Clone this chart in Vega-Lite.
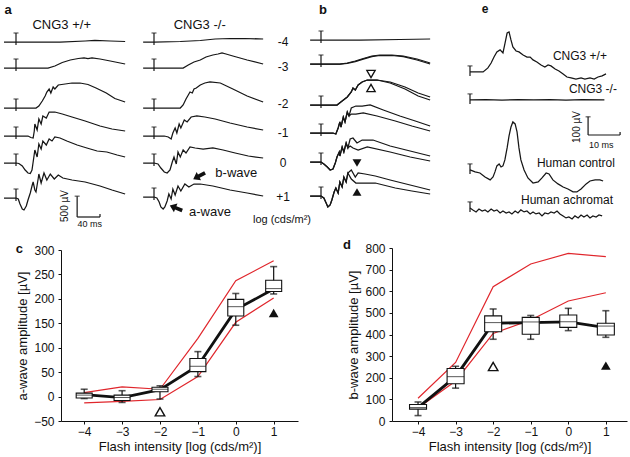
{
"$schema":"https://vega.github.io/schema/vega-lite/v6.json",
"width":630,"height":457,"autosize":{"type":"none"},"padding":0,"background":"white",
"config":{"view":{"stroke":null},"font":"Liberation Sans",
 "axis":{"labelFont":"Liberation Sans","labelFontSize":12,"labelColor":"#111","titleFont":"Liberation Sans","titleFontSize":13,"titleFontWeight":"normal","titleColor":"#111","domainColor":"#111","tickColor":"#111","grid":false,"tickSize":3,"labelFlush":false,"labelOverlap":false}},
"datasets":{
"a1":[
{"k":"m4","t":-21,"v":4392},{"k":"m4","t":0,"v":4392},{"k":"m4","t":77,"v":4392},{"k":"m4","t":121,"v":4416},{"k":"m4","t":138,"v":4428},{"k":"m4","t":165,"v":4416},{"k":"m4","t":191,"v":4404},
{"k":"m3","t":-21,"v":3768},{"k":"m3","t":0,"v":3768},{"k":"m3","t":56,"v":3768},{"k":"m3","t":68,"v":3816},{"k":"m3","t":81,"v":3900},{"k":"m3","t":95,"v":3960},{"k":"m3","t":109,"v":3996},{"k":"m3","t":119,"v":4008},{"k":"m3","t":126,"v":3996},{"k":"m3","t":133,"v":4008},{"k":"m3","t":147,"v":3984},{"k":"m3","t":165,"v":3936},{"k":"m3","t":191,"v":3864},
{"k":"m2","t":-21,"v":2808},{"k":"m2","t":0,"v":2808},{"k":"m2","t":35,"v":2808},{"k":"m2","t":40,"v":2856},{"k":"m2","t":46,"v":2976},{"k":"m2","t":51,"v":3096},{"k":"m2","t":54,"v":3192},{"k":"m2","t":58,"v":3264},{"k":"m2","t":61,"v":3168},{"k":"m2","t":65,"v":3312},{"k":"m2","t":68,"v":3264},{"k":"m2","t":74,"v":3360},{"k":"m2","t":86,"v":3384},{"k":"m2","t":98,"v":3408},{"k":"m2","t":112,"v":3408},{"k":"m2","t":126,"v":3372},{"k":"m2","t":140,"v":3288},{"k":"m2","t":158,"v":3168},{"k":"m2","t":173,"v":3036},{"k":"m2","t":191,"v":2952},
{"k":"m1","t":-21,"v":2136},{"k":"m1","t":0,"v":2136},{"k":"m1","t":21,"v":2136},{"k":"m1","t":26,"v":2100},{"k":"m1","t":30,"v":2088},{"k":"m1","t":32,"v":2256},{"k":"m1","t":33,"v":2424},{"k":"m1","t":37,"v":2280},{"k":"m1","t":40,"v":2544},{"k":"m1","t":44,"v":2424},{"k":"m1","t":47,"v":2616},{"k":"m1","t":53,"v":2568},{"k":"m1","t":58,"v":2712},{"k":"m1","t":68,"v":2712},{"k":"m1","t":81,"v":2664},{"k":"m1","t":98,"v":2592},{"k":"m1","t":121,"v":2496},{"k":"m1","t":147,"v":2376},{"k":"m1","t":168,"v":2304},{"k":"m1","t":191,"v":2256},
{"k":"z0","t":-21,"v":1488},{"k":"z0","t":0,"v":1488},{"k":"z0","t":5,"v":1476},{"k":"z0","t":11,"v":1416},{"k":"z0","t":16,"v":1320},{"k":"z0","t":21,"v":1248},{"k":"z0","t":25,"v":1236},{"k":"z0","t":28,"v":1320},{"k":"z0","t":30,"v":1512},{"k":"z0","t":32,"v":1704},{"k":"z0","t":33,"v":1800},{"k":"z0","t":37,"v":1632},{"k":"z0","t":40,"v":1944},{"k":"z0","t":44,"v":1824},{"k":"z0","t":47,"v":2016},{"k":"z0","t":53,"v":1920},{"k":"z0","t":58,"v":2064},{"k":"z0","t":63,"v":2016},{"k":"z0","t":68,"v":2112},{"k":"z0","t":77,"v":2088},{"k":"z0","t":89,"v":2016},{"k":"z0","t":107,"v":1920},{"k":"z0","t":124,"v":1848},{"k":"z0","t":142,"v":1776},{"k":"z0","t":159,"v":1752},{"k":"z0","t":177,"v":1680},{"k":"z0","t":191,"v":1632},
{"k":"p1","t":-21,"v":648},{"k":"p1","t":0,"v":648},{"k":"p1","t":4,"v":624},{"k":"p1","t":7,"v":504},{"k":"p1","t":11,"v":384},{"k":"p1","t":14,"v":360},{"k":"p1","t":18,"v":456},{"k":"p1","t":21,"v":600},{"k":"p1","t":25,"v":768},{"k":"p1","t":28,"v":936},{"k":"p1","t":30,"v":1032},{"k":"p1","t":33,"v":840},{"k":"p1","t":35,"v":792},{"k":"p1","t":39,"v":1128},{"k":"p1","t":40,"v":1224},{"k":"p1","t":44,"v":1008},{"k":"p1","t":49,"v":1248},{"k":"p1","t":54,"v":1080},{"k":"p1","t":60,"v":1224},{"k":"p1","t":67,"v":1104},{"k":"p1","t":74,"v":1200},{"k":"p1","t":82,"v":1128},{"k":"p1","t":98,"v":1080},{"k":"p1","t":121,"v":1032},{"k":"p1","t":147,"v":936},{"k":"p1","t":168,"v":840},{"k":"p1","t":191,"v":744}
],
"a2":[
{"k":"m4","t":-19,"v":4392},{"k":"m4","t":0,"v":4392},{"k":"m4","t":46,"v":4404},{"k":"m4","t":81,"v":4428},{"k":"m4","t":107,"v":4464},{"k":"m4","t":133,"v":4476},{"k":"m4","t":159,"v":4476},{"k":"m4","t":191,"v":4464},
{"k":"m3","t":-19,"v":3768},{"k":"m3","t":0,"v":3768},{"k":"m3","t":51,"v":3768},{"k":"m3","t":60,"v":3840},{"k":"m3","t":70,"v":3912},{"k":"m3","t":81,"v":3960},{"k":"m3","t":91,"v":4032},{"k":"m3","t":103,"v":4080},{"k":"m3","t":112,"v":4104},{"k":"m3","t":119,"v":4128},{"k":"m3","t":126,"v":4104},{"k":"m3","t":138,"v":4056},{"k":"m3","t":163,"v":3960},{"k":"m3","t":191,"v":3864},
{"k":"m2","t":-19,"v":2808},{"k":"m2","t":0,"v":2808},{"k":"m2","t":46,"v":2808},{"k":"m2","t":51,"v":2880},{"k":"m2","t":56,"v":3024},{"k":"m2","t":60,"v":3120},{"k":"m2","t":63,"v":3192},{"k":"m2","t":67,"v":3168},{"k":"m2","t":70,"v":3264},{"k":"m2","t":74,"v":3288},{"k":"m2","t":81,"v":3360},{"k":"m2","t":89,"v":3408},{"k":"m2","t":98,"v":3432},{"k":"m2","t":116,"v":3408},{"k":"m2","t":138,"v":3264},{"k":"m2","t":163,"v":3096},{"k":"m2","t":191,"v":2952},
{"k":"m1","t":-19,"v":2136},{"k":"m1","t":0,"v":2136},{"k":"m1","t":18,"v":2136},{"k":"m1","t":25,"v":2112},{"k":"m1","t":30,"v":2064},{"k":"m1","t":33,"v":2208},{"k":"m1","t":37,"v":2328},{"k":"m1","t":40,"v":2208},{"k":"m1","t":44,"v":2424},{"k":"m1","t":47,"v":2328},{"k":"m1","t":53,"v":2520},{"k":"m1","t":58,"v":2472},{"k":"m1","t":65,"v":2592},{"k":"m1","t":75,"v":2616},{"k":"m1","t":89,"v":2592},{"k":"m1","t":107,"v":2544},{"k":"m1","t":133,"v":2448},{"k":"m1","t":163,"v":2352},{"k":"m1","t":191,"v":2280},
{"k":"z0","t":-19,"v":1488},{"k":"z0","t":0,"v":1488},{"k":"z0","t":7,"v":1464},{"k":"z0","t":12,"v":1368},{"k":"z0","t":18,"v":1272},{"k":"z0","t":23,"v":1248},{"k":"z0","t":28,"v":1320},{"k":"z0","t":32,"v":1512},{"k":"z0","t":35,"v":1632},{"k":"z0","t":39,"v":1464},{"k":"z0","t":42,"v":1752},{"k":"z0","t":46,"v":1632},{"k":"z0","t":51,"v":1800},{"k":"z0","t":56,"v":1728},{"k":"z0","t":63,"v":1872},{"k":"z0","t":72,"v":1848},{"k":"z0","t":86,"v":1824},{"k":"z0","t":103,"v":1848},{"k":"z0","t":121,"v":1800},{"k":"z0","t":142,"v":1728},{"k":"z0","t":165,"v":1656},{"k":"z0","t":191,"v":1608},
{"k":"p1","t":-19,"v":672},{"k":"p1","t":0,"v":672},{"k":"p1","t":5,"v":648},{"k":"p1","t":9,"v":552},{"k":"p1","t":12,"v":432},{"k":"p1","t":16,"v":384},{"k":"p1","t":19,"v":432},{"k":"p1","t":23,"v":576},{"k":"p1","t":26,"v":744},{"k":"p1","t":30,"v":624},{"k":"p1","t":33,"v":864},{"k":"p1","t":37,"v":720},{"k":"p1","t":42,"v":936},{"k":"p1","t":47,"v":816},{"k":"p1","t":54,"v":984},{"k":"p1","t":61,"v":912},{"k":"p1","t":70,"v":984},{"k":"p1","t":81,"v":984},{"k":"p1","t":103,"v":936},{"k":"p1","t":133,"v":840},{"k":"p1","t":163,"v":768},{"k":"p1","t":191,"v":696}
],
"b":[
{"k":"m4","t":-19,"v":4440},{"k":"m4","t":0,"v":4440},{"k":"m4","t":68,"v":4440},{"k":"m4","t":138,"v":4452},{"k":"m4","t":191,"v":4464},
{"k":"m3u","t":-19,"v":3864},{"k":"m3u","t":0,"v":3864},{"k":"m3u","t":33,"v":3864},{"k":"m3u","t":46,"v":3888},{"k":"m3u","t":60,"v":3936},{"k":"m3u","t":74,"v":3996},{"k":"m3u","t":89,"v":4056},{"k":"m3u","t":103,"v":4080},{"k":"m3u","t":124,"v":4080},{"k":"m3u","t":144,"v":4056},{"k":"m3u","t":168,"v":3984},{"k":"m3u","t":191,"v":3888},
{"k":"m3l","t":-19,"v":3864},{"k":"m3l","t":0,"v":3864},{"k":"m3l","t":33,"v":3864},{"k":"m3l","t":46,"v":3880},{"k":"m3l","t":60,"v":3920},{"k":"m3l","t":74,"v":3980},{"k":"m3l","t":89,"v":4040},{"k":"m3l","t":103,"v":4068},{"k":"m3l","t":124,"v":4068},{"k":"m3l","t":144,"v":4040},{"k":"m3l","t":168,"v":3960},{"k":"m3l","t":191,"v":3864},
{"k":"m2u","t":-19,"v":2880},{"k":"m2u","t":0,"v":2880},{"k":"m2u","t":28,"v":2880},{"k":"m2u","t":37,"v":2976},{"k":"m2u","t":46,"v":3072},{"k":"m2u","t":53,"v":3192},{"k":"m2u","t":56,"v":3288},{"k":"m2u","t":60,"v":3240},{"k":"m2u","t":65,"v":3360},{"k":"m2u","t":72,"v":3432},{"k":"m2u","t":81,"v":3480},{"k":"m2u","t":98,"v":3480},{"k":"m2u","t":121,"v":3432},{"k":"m2u","t":147,"v":3312},{"k":"m2u","t":170,"v":3168},{"k":"m2u","t":191,"v":3072},
{"k":"m2l","t":-19,"v":2880},{"k":"m2l","t":0,"v":2880},{"k":"m2l","t":28,"v":2880},{"k":"m2l","t":37,"v":2976},{"k":"m2l","t":46,"v":3072},{"k":"m2l","t":53,"v":3192},{"k":"m2l","t":56,"v":3288},{"k":"m2l","t":60,"v":3240},{"k":"m2l","t":65,"v":3360},{"k":"m2l","t":72,"v":3432},{"k":"m2l","t":81,"v":3480},{"k":"m2l","t":98,"v":3480},{"k":"m2l","t":121,"v":3408},{"k":"m2l","t":147,"v":3264},{"k":"m2l","t":170,"v":3096},{"k":"m2l","t":191,"v":3000},
{"k":"m1u","t":-19,"v":2208},{"k":"m1u","t":0,"v":2208},{"k":"m1u","t":21,"v":2208},{"k":"m1u","t":26,"v":2184},{"k":"m1u","t":30,"v":2328},{"k":"m1u","t":33,"v":2472},{"k":"m1u","t":35,"v":2352},{"k":"m1u","t":39,"v":2592},{"k":"m1u","t":42,"v":2472},{"k":"m1u","t":46,"v":2712},{"k":"m1u","t":49,"v":2616},{"k":"m1u","t":53,"v":2808},{"k":"m1u","t":61,"v":2856},{"k":"m1u","t":72,"v":2856},{"k":"m1u","t":86,"v":2880},{"k":"m1u","t":109,"v":2760},{"k":"m1u","t":138,"v":2616},{"k":"m1u","t":165,"v":2496},{"k":"m1u","t":191,"v":2376},
{"k":"m1l","t":-19,"v":2208},{"k":"m1l","t":0,"v":2208},{"k":"m1l","t":21,"v":2208},{"k":"m1l","t":26,"v":2184},{"k":"m1l","t":30,"v":2328},{"k":"m1l","t":33,"v":2472},{"k":"m1l","t":35,"v":2352},{"k":"m1l","t":39,"v":2592},{"k":"m1l","t":42,"v":2472},{"k":"m1l","t":46,"v":2712},{"k":"m1l","t":49,"v":2616},{"k":"m1l","t":53,"v":2664},{"k":"m1l","t":61,"v":2664},{"k":"m1l","t":74,"v":2688},{"k":"m1l","t":98,"v":2616},{"k":"m1l","t":130,"v":2496},{"k":"m1l","t":159,"v":2376},{"k":"m1l","t":191,"v":2256},
{"k":"z0u","t":-19,"v":1512},{"k":"z0u","t":0,"v":1512},{"k":"z0u","t":5,"v":1464},{"k":"z0u","t":11,"v":1392},{"k":"z0u","t":16,"v":1320},{"k":"z0u","t":21,"v":1344},{"k":"z0u","t":25,"v":1488},{"k":"z0u","t":28,"v":1632},{"k":"z0u","t":32,"v":1752},{"k":"z0u","t":33,"v":1656},{"k":"z0u","t":37,"v":1872},{"k":"z0u","t":40,"v":1752},{"k":"z0u","t":44,"v":1968},{"k":"z0u","t":47,"v":1848},{"k":"z0u","t":51,"v":2064},{"k":"z0u","t":56,"v":2088},{"k":"z0u","t":63,"v":1968},{"k":"z0u","t":72,"v":2040},{"k":"z0u","t":91,"v":2040},{"k":"z0u","t":121,"v":1896},{"k":"z0u","t":156,"v":1776},{"k":"z0u","t":191,"v":1656},
{"k":"z0l","t":-19,"v":1512},{"k":"z0l","t":0,"v":1512},{"k":"z0l","t":5,"v":1464},{"k":"z0l","t":11,"v":1392},{"k":"z0l","t":16,"v":1320},{"k":"z0l","t":21,"v":1344},{"k":"z0l","t":25,"v":1488},{"k":"z0l","t":28,"v":1632},{"k":"z0l","t":32,"v":1752},{"k":"z0l","t":33,"v":1656},{"k":"z0l","t":37,"v":1872},{"k":"z0l","t":40,"v":1752},{"k":"z0l","t":44,"v":1968},{"k":"z0l","t":47,"v":1848},{"k":"z0l","t":51,"v":1896},{"k":"z0l","t":56,"v":1848},{"k":"z0l","t":65,"v":1800},{"k":"z0l","t":81,"v":1872},{"k":"z0l","t":121,"v":1752},{"k":"z0l","t":156,"v":1632},{"k":"z0l","t":191,"v":1536},
{"k":"p1u","t":-19,"v":696},{"k":"p1u","t":0,"v":696},{"k":"p1u","t":5,"v":648},{"k":"p1u","t":9,"v":528},{"k":"p1u","t":12,"v":432},{"k":"p1u","t":16,"v":480},{"k":"p1u","t":19,"v":600},{"k":"p1u","t":23,"v":792},{"k":"p1u","t":26,"v":888},{"k":"p1u","t":30,"v":768},{"k":"p1u","t":33,"v":1032},{"k":"p1u","t":37,"v":912},{"k":"p1u","t":40,"v":1152},{"k":"p1u","t":44,"v":1032},{"k":"p1u","t":47,"v":1248},{"k":"p1u","t":53,"v":1320},{"k":"p1u","t":60,"v":1152},{"k":"p1u","t":65,"v":1248},{"k":"p1u","t":77,"v":1224},{"k":"p1u","t":95,"v":1176},{"k":"p1u","t":121,"v":1080},{"k":"p1u","t":156,"v":960},{"k":"p1u","t":191,"v":840},
{"k":"p1l","t":-19,"v":696},{"k":"p1l","t":0,"v":696},{"k":"p1l","t":5,"v":648},{"k":"p1l","t":9,"v":528},{"k":"p1l","t":12,"v":432},{"k":"p1l","t":16,"v":480},{"k":"p1l","t":19,"v":600},{"k":"p1l","t":23,"v":792},{"k":"p1l","t":26,"v":888},{"k":"p1l","t":30,"v":768},{"k":"p1l","t":33,"v":1032},{"k":"p1l","t":37,"v":912},{"k":"p1l","t":40,"v":1152},{"k":"p1l","t":44,"v":1032},{"k":"p1l","t":47,"v":1248},{"k":"p1l","t":53,"v":1104},{"k":"p1l","t":61,"v":1008},{"k":"p1l","t":77,"v":1008},{"k":"p1l","t":95,"v":1008},{"k":"p1l","t":130,"v":888},{"k":"p1l","t":159,"v":816},{"k":"p1l","t":191,"v":744}
],
"e":[
{"k":"e1","t":0,"v":842},{"k":"e1","t":4.1,"v":842},{"k":"e1","t":5.6,"v":864},{"k":"e1","t":6.6,"v":891},{"k":"e1","t":7.5,"v":924},{"k":"e1","t":8.4,"v":952},{"k":"e1","t":9.4,"v":963},{"k":"e1","t":10.3,"v":946},{"k":"e1","t":10.9,"v":996},{"k":"e1","t":11.6,"v":1056},{"k":"e1","t":12.2,"v":1062},{"k":"e1","t":12.8,"v":1018},{"k":"e1","t":13.4,"v":979},{"k":"e1","t":14.4,"v":957},{"k":"e1","t":15.3,"v":952},{"k":"e1","t":16.6,"v":935},{"k":"e1","t":17.8,"v":924},{"k":"e1","t":18.8,"v":924},{"k":"e1","t":19.7,"v":908},{"k":"e1","t":20.9,"v":897},{"k":"e1","t":22.2,"v":880},{"k":"e1","t":23.4,"v":869},{"k":"e1","t":24.4,"v":880},{"k":"e1","t":25.3,"v":875},{"k":"e1","t":26.6,"v":858},{"k":"e1","t":27.8,"v":847},{"k":"e1","t":29.1,"v":831},{"k":"e1","t":30.3,"v":814},{"k":"e1","t":31.6,"v":809},{"k":"e1","t":33.1,"v":803},{"k":"e1","t":34.7,"v":809},{"k":"e1","t":35.9,"v":803},{"k":"e1","t":37.5,"v":809},{"k":"e1","t":38.8,"v":803},{"k":"e1","t":40,"v":814},{"k":"e1","t":41.3,"v":820},{"k":"e1","t":42.5,"v":831},
{"k":"e2","t":0,"v":688},{"k":"e2","t":5,"v":690},{"k":"e2","t":10,"v":687},{"k":"e2","t":15,"v":689},{"k":"e2","t":20,"v":688},{"k":"e2","t":25,"v":690},{"k":"e2","t":30,"v":687},{"k":"e2","t":35,"v":689},{"k":"e2","t":42,"v":688},
{"k":"e3","t":0,"v":303},{"k":"e3","t":1.6,"v":292},{"k":"e3","t":3.1,"v":286},{"k":"e3","t":4.7,"v":264},{"k":"e3","t":6.3,"v":248},{"k":"e3","t":7.2,"v":264},{"k":"e3","t":7.8,"v":292},{"k":"e3","t":8.4,"v":325},{"k":"e3","t":9.1,"v":336},{"k":"e3","t":9.7,"v":319},{"k":"e3","t":10.3,"v":325},{"k":"e3","t":10.9,"v":358},{"k":"e3","t":11.6,"v":424},{"k":"e3","t":12.2,"v":490},{"k":"e3","t":12.8,"v":539},{"k":"e3","t":13.4,"v":567},{"k":"e3","t":14.1,"v":556},{"k":"e3","t":14.7,"v":512},{"k":"e3","t":15.3,"v":424},{"k":"e3","t":15.9,"v":358},{"k":"e3","t":16.9,"v":303},{"k":"e3","t":18.1,"v":259},{"k":"e3","t":19.7,"v":231},{"k":"e3","t":21.3,"v":237},{"k":"e3","t":22.5,"v":259},{"k":"e3","t":23.8,"v":286},{"k":"e3","t":24.7,"v":281},{"k":"e3","t":25.9,"v":248},{"k":"e3","t":27.5,"v":226},{"k":"e3","t":29.1,"v":209},{"k":"e3","t":30.6,"v":198},{"k":"e3","t":32.2,"v":182},{"k":"e3","t":33.4,"v":182},{"k":"e3","t":34.7,"v":198},{"k":"e3","t":36.3,"v":226},{"k":"e3","t":37.5,"v":242},{"k":"e3","t":39.1,"v":248},{"k":"e3","t":40.6,"v":248},{"k":"e3","t":41.6,"v":242},
{"k":"e4","t":0,"v":94},{"k":"e4","t":0.9,"v":83},{"k":"e4","t":1.9,"v":72},{"k":"e4","t":2.8,"v":88},{"k":"e4","t":3.8,"v":77},{"k":"e4","t":4.7,"v":83},{"k":"e4","t":5.6,"v":72},{"k":"e4","t":6.6,"v":88},{"k":"e4","t":7.5,"v":77},{"k":"e4","t":8.4,"v":83},{"k":"e4","t":9.4,"v":66},{"k":"e4","t":10.3,"v":77},{"k":"e4","t":11.3,"v":66},{"k":"e4","t":12.2,"v":72},{"k":"e4","t":13.1,"v":61},{"k":"e4","t":14.1,"v":77},{"k":"e4","t":15,"v":66},{"k":"e4","t":15.9,"v":83},{"k":"e4","t":16.9,"v":72},{"k":"e4","t":17.8,"v":77},{"k":"e4","t":18.8,"v":61},{"k":"e4","t":19.7,"v":72},{"k":"e4","t":20.6,"v":61},{"k":"e4","t":21.6,"v":66},{"k":"e4","t":22.5,"v":50},{"k":"e4","t":23.4,"v":66},{"k":"e4","t":24.4,"v":61},{"k":"e4","t":25.3,"v":72},{"k":"e4","t":26.3,"v":66},{"k":"e4","t":27.2,"v":77},{"k":"e4","t":28.1,"v":61},{"k":"e4","t":29.1,"v":50},{"k":"e4","t":30,"v":39},{"k":"e4","t":30.9,"v":44},{"k":"e4","t":31.9,"v":33},{"k":"e4","t":32.8,"v":50},{"k":"e4","t":33.8,"v":39},{"k":"e4","t":34.7,"v":55},{"k":"e4","t":35.6,"v":44},{"k":"e4","t":36.6,"v":55},{"k":"e4","t":37.5,"v":39},{"k":"e4","t":38.4,"v":50},{"k":"e4","t":39.4,"v":44},{"k":"e4","t":40.3,"v":55},{"k":"e4","t":41.3,"v":50}
],
"mk":[
{"c":"A1","t":0,"lo":4320,"hi":4608},{"c":"A1","t":0,"lo":3696,"hi":3984},{"c":"A1","t":0,"lo":2736,"hi":3024},{"c":"A1","t":0,"lo":2064,"hi":2352},{"c":"A1","t":0,"lo":1416,"hi":1704},{"c":"A1","t":0,"lo":576,"hi":864},
{"c":"A2","t":0,"lo":4320,"hi":4608},{"c":"A2","t":0,"lo":3696,"hi":3984},{"c":"A2","t":0,"lo":2736,"hi":3024},{"c":"A2","t":0,"lo":2064,"hi":2352},{"c":"A2","t":0,"lo":1416,"hi":1704},{"c":"A2","t":0,"lo":600,"hi":888},
{"c":"B","t":0,"lo":4368,"hi":4656},{"c":"B","t":0,"lo":3792,"hi":4080},{"c":"B","t":0,"lo":2808,"hi":3096},{"c":"B","t":0,"lo":2136,"hi":2424},{"c":"B","t":0,"lo":1440,"hi":1728},{"c":"B","t":0,"lo":624,"hi":912},
{"c":"E","t":0,"lo":820,"hi":875},{"c":"E","t":0,"lo":666,"hi":721},{"c":"E","t":0,"lo":281,"hi":336},{"c":"E","t":0,"lo":72,"hi":127}
],
"sb":[
{"c":"A1","t":107,"t2":107,"v":192,"v2":692},{"c":"A1","t":107,"t2":147,"v":192,"v2":192},{"c":"A1","t":147,"t2":147,"v":192,"v2":264},
{"c":"E","t":36.9,"t2":36.9,"v":495,"v2":595},{"c":"E","t":36.9,"t2":46.9,"v":495,"v2":495},{"c":"E","t":46.9,"t2":46.9,"v":495,"v2":512}
],
"box_c":[
{"x":-4,"lo":-4,"q1":-3,"med":3,"q3":7,"hi":15,"mean":4},
{"x":-3,"lo":-12,"q1":-8,"med":-2,"q3":3,"hi":12,"mean":-2},
{"x":-2,"lo":-5,"q1":10,"med":15,"q3":19,"hi":22,"mean":14},
{"x":-1,"lo":41,"q1":51,"med":62,"q3":78,"hi":92,"mean":63},
{"x":0,"lo":146,"q1":165,"med":184,"q3":199,"hi":211,"mean":178},
{"x":1,"lo":210,"q1":215,"med":221,"q3":238,"hi":266,"mean":220}
],
"red_c":[
{"s":"u","x":-4,"y":8},{"s":"u","x":-3,"y":20},{"s":"u","x":-2,"y":15},{"s":"u","x":-1,"y":119},{"s":"u","x":0,"y":237},{"s":"u","x":1,"y":278},
{"s":"l","x":-4,"y":-13},{"s":"l","x":-3,"y":-10},{"s":"l","x":-2,"y":-6},{"s":"l","x":-1,"y":41},{"s":"l","x":0,"y":152},{"s":"l","x":1,"y":202}
],
"box_d":[
{"x":-4,"lo":25,"q1":55,"med":62,"q3":76,"hi":88,"mean":62},
{"x":-3,"lo":152,"q1":172,"med":205,"q3":243,"hi":253,"mean":205},
{"x":-2,"lo":378,"q1":413,"med":455,"q3":486,"hi":518,"mean":452},
{"x":-1,"lo":378,"q1":401,"med":458,"q3":479,"hi":488,"mean":455},
{"x":0,"lo":418,"q1":433,"med":459,"q3":490,"hi":521,"mean":458},
{"x":1,"lo":387,"q1":398,"med":439,"q3":452,"hi":510,"mean":432}
],
"red_d":[
{"s":"u","x":-4,"y":105},{"s":"u","x":-3,"y":271},{"s":"u","x":-2,"y":621},{"s":"u","x":-1,"y":726},{"s":"u","x":0,"y":775},{"s":"u","x":1,"y":760},
{"s":"l","x":-4,"y":60},{"s":"l","x":-3,"y":185},{"s":"l","x":-2,"y":405},{"s":"l","x":-1,"y":467},{"s":"l","x":0,"y":555},{"s":"l","x":1,"y":593}
]
},
"resolve":{"scale":{"x":"independent","y":"independent"}},
"layer":[
{"layer":[
 {"data":{"name":"a1"},"mark":{"type":"line","stroke":"#161616","strokeWidth":1.25},
  "encoding":{"x":{"field":"t","type":"quantitative","scale":{"domain":[0,175],"range":[16,116],"nice":false,"zero":false},"axis":null},
   "y":{"field":"v","type":"quantitative","scale":{"domain":[0,2400],"range":[225,125],"nice":false,"zero":false},"axis":null},
   "detail":{"field":"k","type":"nominal"}}},
 {"data":{"name":"mk"},"transform":[{"filter":"datum.c==='A1'"}],"mark":{"type":"rule","stroke":"#161616","strokeWidth":1.2},
  "encoding":{"x":{"field":"t","type":"quantitative","axis":null},"y":{"field":"lo","type":"quantitative","axis":null},"y2":{"field":"hi"}}},
 {"data":{"name":"mk"},"transform":[{"filter":"datum.c==='A1'"}],"mark":{"type":"tick","orient":"horizontal","size":5,"thickness":1.2,"color":"#161616"},
  "encoding":{"x":{"field":"t","type":"quantitative","axis":null},"y":{"field":"hi","type":"quantitative","axis":null}}},
 {"data":{"name":"sb"},"transform":[{"filter":"datum.c==='A1'"}],"mark":{"type":"rule","stroke":"#161616","strokeWidth":1.2},
  "encoding":{"x":{"field":"t","type":"quantitative","axis":null},"x2":{"field":"t2"},"y":{"field":"v","type":"quantitative","axis":null},"y2":{"field":"v2"}}},
 {"data":{"values":[{"t":107,"v":692}]},"mark":{"type":"tick","orient":"horizontal","size":5,"thickness":1.2,"color":"#161616"},
  "encoding":{"x":{"field":"t","type":"quantitative","axis":null},"y":{"field":"v","type":"quantitative","axis":null}}},
 {"data":{"values":[{"t":-14,"v":5160,"s":"a"}]},"mark":{"type":"text","font":"Liberation Sans","fontSize":13,"fontWeight":"bold","color":"#111"},
  "encoding":{"x":{"field":"t","type":"quantitative","axis":null},"y":{"field":"v","type":"quantitative","axis":null},"text":{"field":"s","type":"nominal"}}},
 {"data":{"values":[{"t":80,"v":4800,"s":"CNG3 +/+"}]},"mark":{"type":"text","font":"Liberation Sans","fontSize":13,"color":"#111"},
  "encoding":{"x":{"field":"t","type":"quantitative","axis":null},"y":{"field":"v","type":"quantitative","axis":null},"text":{"field":"s","type":"nominal"}}},
 {"data":{"values":[{"t":86,"v":456,"s":"500 µV"}]},"mark":{"type":"text","font":"Liberation Sans","fontSize":10,"angle":270,"color":"#111"},
  "encoding":{"x":{"field":"t","type":"quantitative","axis":null},"y":{"field":"v","type":"quantitative","axis":null},"text":{"field":"s","type":"nominal"}}},
 {"data":{"values":[{"t":129,"v":24,"s":"40 ms"}]},"mark":{"type":"text","font":"Liberation Sans","fontSize":9,"color":"#111"},
  "encoding":{"x":{"field":"t","type":"quantitative","axis":null},"y":{"field":"v","type":"quantitative","axis":null},"text":{"field":"s","type":"nominal"}}}
]},
{"layer":[
 {"data":{"name":"a2"},"mark":{"type":"line","stroke":"#161616","strokeWidth":1.25},
  "encoding":{"x":{"field":"t","type":"quantitative","scale":{"domain":[0,175],"range":[154,254],"nice":false,"zero":false},"axis":null},
   "y":{"field":"v","type":"quantitative","scale":{"domain":[0,2400],"range":[225,125],"nice":false,"zero":false},"axis":null},
   "detail":{"field":"k","type":"nominal"}}},
 {"data":{"name":"mk"},"transform":[{"filter":"datum.c==='A2'"}],"mark":{"type":"rule","stroke":"#161616","strokeWidth":1.2},
  "encoding":{"x":{"field":"t","type":"quantitative","axis":null},"y":{"field":"lo","type":"quantitative","axis":null},"y2":{"field":"hi"}}},
 {"data":{"name":"mk"},"transform":[{"filter":"datum.c==='A2'"}],"mark":{"type":"tick","orient":"horizontal","size":5,"thickness":1.2,"color":"#161616"},
  "encoding":{"x":{"field":"t","type":"quantitative","axis":null},"y":{"field":"hi","type":"quantitative","axis":null}}},
 {"data":{"values":[{"t":80,"v":4800,"s":"CNG3 -/-"},{"t":144,"v":1248,"s":"b-wave"},{"t":98,"v":312,"s":"a-wave"}]},"mark":{"type":"text","font":"Liberation Sans","fontSize":13,"color":"#111"},
  "encoding":{"x":{"field":"t","type":"quantitative","axis":null},"y":{"field":"v","type":"quantitative","axis":null},"text":{"field":"s","type":"nominal"}}},
 {"data":{"values":[{"t":226,"v":4392,"s":"-4"},{"t":226,"v":3792,"s":"-3"},{"t":226,"v":2904,"s":"-2"},{"t":226,"v":2208,"s":"-1"},{"t":226,"v":1488,"s":"0"},{"t":226,"v":672,"s":"+1"}]},"mark":{"type":"text","font":"Liberation Sans","fontSize":12,"color":"#111"},
  "encoding":{"x":{"field":"t","type":"quantitative","axis":null},"y":{"field":"v","type":"quantitative","axis":null},"text":{"field":"s","type":"nominal"}}},
 {"data":{"values":[{"t":224,"v":120,"s":"log (cds/m²)"}]},"mark":{"type":"text","font":"Liberation Sans","fontSize":11,"color":"#111"},
  "encoding":{"x":{"field":"t","type":"quantitative","axis":null},"y":{"field":"v","type":"quantitative","axis":null},"text":{"field":"s","type":"nominal"}}},
 {"data":{"values":[{"t":79,"v":1176}]},"mark":{"type":"point","shape":"M1,-0.28L-0.05,-0.28L-0.05,-0.7L-1,0L-0.05,0.7L-0.05,0.28L1,0.28Z","filled":true,"color":"#111","size":180,"angle":332,"opacity":1},
  "encoding":{"x":{"field":"t","type":"quantitative","axis":null},"y":{"field":"v","type":"quantitative","axis":null}}},
 {"data":{"values":[{"t":38.5,"v":408}]},"mark":{"type":"point","shape":"M1,-0.28L-0.05,-0.28L-0.05,-0.7L-1,0L-0.05,0.7L-0.05,0.28L1,0.28Z","filled":true,"color":"#111","size":180,"angle":22,"opacity":1},
  "encoding":{"x":{"field":"t","type":"quantitative","axis":null},"y":{"field":"v","type":"quantitative","axis":null}}}
]},
{"layer":[
 {"data":{"name":"b"},"mark":{"type":"line","stroke":"#161616","strokeWidth":1.25},
  "encoding":{"x":{"field":"t","type":"quantitative","scale":{"domain":[0,175],"range":[321,421],"nice":false,"zero":false},"axis":null},
   "y":{"field":"v","type":"quantitative","scale":{"domain":[0,2400],"range":[225,125],"nice":false,"zero":false},"axis":null},
   "detail":{"field":"k","type":"nominal"}}},
 {"data":{"name":"mk"},"transform":[{"filter":"datum.c==='B'"}],"mark":{"type":"rule","stroke":"#161616","strokeWidth":1.2},
  "encoding":{"x":{"field":"t","type":"quantitative","axis":null},"y":{"field":"lo","type":"quantitative","axis":null},"y2":{"field":"hi"}}},
 {"data":{"name":"mk"},"transform":[{"filter":"datum.c==='B'"}],"mark":{"type":"tick","orient":"horizontal","size":5,"thickness":1.2,"color":"#161616"},
  "encoding":{"x":{"field":"t","type":"quantitative","axis":null},"y":{"field":"hi","type":"quantitative","axis":null}}},
 {"data":{"values":[{"t":3.5,"v":5160,"s":"b"}]},"mark":{"type":"text","font":"Liberation Sans","fontSize":13,"fontWeight":"bold","color":"#111"},
  "encoding":{"x":{"field":"t","type":"quantitative","axis":null},"y":{"field":"v","type":"quantitative","axis":null},"text":{"field":"s","type":"nominal"}}},
 {"data":{"values":[{"t":87.5,"v":3624}]},"mark":{"type":"point","shape":"triangle-down","filled":true,"fill":"white","stroke":"#111","strokeWidth":1.3,"size":70,"opacity":1},
  "encoding":{"x":{"field":"t","type":"quantitative","axis":null},"y":{"field":"v","type":"quantitative","axis":null}}},
 {"data":{"values":[{"t":87.5,"v":3288}]},"mark":{"type":"point","shape":"triangle-up","filled":true,"fill":"white","stroke":"#111","strokeWidth":1.3,"size":70,"opacity":1},
  "encoding":{"x":{"field":"t","type":"quantitative","axis":null},"y":{"field":"v","type":"quantitative","axis":null}}},
 {"data":{"values":[{"t":63,"v":1488}]},"mark":{"type":"point","shape":"triangle-down","filled":true,"color":"#111","size":80,"opacity":1},
  "encoding":{"x":{"field":"t","type":"quantitative","axis":null},"y":{"field":"v","type":"quantitative","axis":null}}},
 {"data":{"values":[{"t":63,"v":792}]},"mark":{"type":"point","shape":"triangle-up","filled":true,"color":"#111","size":80,"opacity":1},
  "encoding":{"x":{"field":"t","type":"quantitative","axis":null},"y":{"field":"v","type":"quantitative","axis":null}}}
]},
{"layer":[
 {"data":{"name":"e"},"mark":{"type":"line","stroke":"#161616","strokeWidth":1.25},
  "encoding":{"x":{"field":"t","type":"quantitative","scale":{"domain":[0,50],"range":[470,630],"nice":false,"zero":false},"axis":null},
   "y":{"field":"v","type":"quantitative","scale":{"domain":[0,1100],"range":[225,25],"nice":false,"zero":false},"axis":null},
   "detail":{"field":"k","type":"nominal"}}},
 {"data":{"name":"mk"},"transform":[{"filter":"datum.c==='E'"}],"mark":{"type":"rule","stroke":"#161616","strokeWidth":1.2},
  "encoding":{"x":{"field":"t","type":"quantitative","axis":null},"y":{"field":"lo","type":"quantitative","axis":null},"y2":{"field":"hi"}}},
 {"data":{"name":"mk"},"transform":[{"filter":"datum.c==='E'"}],"mark":{"type":"tick","orient":"horizontal","size":5,"thickness":1.2,"color":"#161616"},
  "encoding":{"x":{"field":"t","type":"quantitative","axis":null},"y":{"field":"hi","type":"quantitative","axis":null}}},
 {"data":{"name":"sb"},"transform":[{"filter":"datum.c==='E'"}],"mark":{"type":"rule","stroke":"#161616","strokeWidth":1.2},
  "encoding":{"x":{"field":"t","type":"quantitative","axis":null},"x2":{"field":"t2"},"y":{"field":"v","type":"quantitative","axis":null},"y2":{"field":"v2"}}},
 {"data":{"values":[{"t":36.9,"v":595}]},"mark":{"type":"tick","orient":"horizontal","size":5,"thickness":1.2,"color":"#161616"},
  "encoding":{"x":{"field":"t","type":"quantitative","axis":null},"y":{"field":"v","type":"quantitative","axis":null}}},
 {"data":{"values":[{"t":4.7,"v":1188,"s":"e"}]},"mark":{"type":"text","font":"Liberation Sans","fontSize":12,"fontWeight":"bold","color":"#111"},
  "encoding":{"x":{"field":"t","type":"quantitative","axis":null},"y":{"field":"v","type":"quantitative","axis":null},"text":{"field":"s","type":"nominal"}}},
 {"data":{"values":[{"t":42.8,"v":929,"s":"CNG3 +/+"},{"t":45.9,"v":748,"s":"CNG3 -/-"},{"t":45.3,"v":341,"s":"Human control"},{"t":44.7,"v":138,"s":"Human achromat"}]},"mark":{"type":"text","font":"Liberation Sans","fontSize":12,"align":"right","color":"#111"},
  "encoding":{"x":{"field":"t","type":"quantitative","axis":null},"y":{"field":"v","type":"quantitative","axis":null},"text":{"field":"s","type":"nominal"}}},
 {"data":{"values":[{"t":33.4,"v":539,"s":"100 µV"}]},"mark":{"type":"text","font":"Liberation Sans","fontSize":10,"angle":270,"color":"#111"},
  "encoding":{"x":{"field":"t","type":"quantitative","axis":null},"y":{"field":"v","type":"quantitative","axis":null},"text":{"field":"s","type":"nominal"}}},
 {"data":{"values":[{"t":41,"v":440,"s":"10 ms"}]},"mark":{"type":"text","font":"Liberation Sans","fontSize":9,"color":"#111"},
  "encoding":{"x":{"field":"t","type":"quantitative","axis":null},"y":{"field":"v","type":"quantitative","axis":null},"text":{"field":"s","type":"nominal"}}}
]},
{"layer":[
 {"data":{"name":"red_c"},"mark":{"type":"line","stroke":"#e0262c","strokeWidth":1.2},
  "encoding":{"x":{"field":"x","type":"quantitative","scale":{"domain":[-4.48,1.51],"range":[61,298],"nice":false,"zero":false},
     "axis":{"orient":"bottom","offset":-36,"values":[-4,-3,-2,-1,0,1],"format":"d","title":"Flash intensity [log (cds/m²)]","labelPadding":2,"titlePadding":3}},
   "y":{"field":"y","type":"quantitative","scale":{"domain":[-50,300],"range":[421,250],"nice":false,"zero":false},
     "axis":{"orient":"left","offset":-61,"values":[-50,0,50,100,150,200,250,300],"format":"d","title":"a-wave amplitude [µV]","labelPadding":4,"titlePadding":4}},
   "detail":{"field":"s","type":"nominal"}}},
 {"data":{"name":"box_c"},"mark":{"type":"line","stroke":"#111","strokeWidth":2.8},
  "encoding":{"x":{"field":"x","type":"quantitative"},"y":{"field":"mean","type":"quantitative"}}},
 {"data":{"name":"box_c"},"mark":{"type":"rule","stroke":"#111","strokeWidth":1.2},
  "encoding":{"x":{"field":"x","type":"quantitative"},"y":{"field":"lo","type":"quantitative"},"y2":{"field":"hi"}}},
 {"data":{"name":"box_c"},"mark":{"type":"tick","orient":"horizontal","size":7,"thickness":1.6,"color":"#111"},
  "encoding":{"x":{"field":"x","type":"quantitative"},"y":{"field":"lo","type":"quantitative"}}},
 {"data":{"name":"box_c"},"mark":{"type":"tick","orient":"horizontal","size":7,"thickness":1.6,"color":"#111"},
  "encoding":{"x":{"field":"x","type":"quantitative"},"y":{"field":"hi","type":"quantitative"}}},
 {"data":{"name":"box_c"},"mark":{"type":"bar","width":16,"fill":"white","stroke":"#111","strokeWidth":1.1},
  "encoding":{"x":{"field":"x","type":"quantitative"},"y":{"field":"q1","type":"quantitative"},"y2":{"field":"q3"}}},
 {"data":{"name":"box_c"},"mark":{"type":"tick","orient":"horizontal","size":16,"thickness":1,"color":"#111"},
  "encoding":{"x":{"field":"x","type":"quantitative"},"y":{"field":"med","type":"quantitative"}}},
 {"data":{"values":[{"x":-2,"y":-31}]},"mark":{"type":"point","shape":"triangle-up","filled":true,"fill":"white","stroke":"#111","strokeWidth":1.4,"size":90,"opacity":1},
  "encoding":{"x":{"field":"x","type":"quantitative"},"y":{"field":"y","type":"quantitative"}}},
 {"data":{"values":[{"x":1,"y":171}]},"mark":{"type":"point","shape":"triangle-up","filled":true,"color":"#111","size":95,"opacity":1},
  "encoding":{"x":{"field":"x","type":"quantitative"},"y":{"field":"y","type":"quantitative"}}},
 {"data":{"values":[{"x":-5.71,"y":302,"s":"c"}]},"mark":{"type":"text","font":"Liberation Sans","fontSize":13,"fontWeight":"bold","color":"#111"},
  "encoding":{"x":{"field":"x","type":"quantitative"},"y":{"field":"y","type":"quantitative"},"text":{"field":"s","type":"nominal"}}}
]},
{"layer":[
 {"data":{"name":"red_d"},"mark":{"type":"line","stroke":"#e0262c","strokeWidth":1.2},
  "encoding":{"x":{"field":"x","type":"quantitative","scale":{"domain":[-4.56,1.43],"range":[392,627],"nice":false,"zero":false},
     "axis":{"orient":"bottom","offset":-36,"values":[-4,-3,-2,-1,0,1],"format":"d","title":"Flash intensity [log (cds/m²)]","labelPadding":2,"titlePadding":3}},
   "y":{"field":"y","type":"quantitative","scale":{"domain":[0,800],"range":[421,248],"nice":false,"zero":false},
     "axis":{"orient":"left","offset":-392,"values":[0,100,200,300,400,500,600,700,800],"format":"d","title":"b-wave amplitude [µV]","labelPadding":4,"titlePadding":4}},
   "detail":{"field":"s","type":"nominal"}}},
 {"data":{"name":"box_d"},"mark":{"type":"line","stroke":"#111","strokeWidth":2.8},
  "encoding":{"x":{"field":"x","type":"quantitative"},"y":{"field":"mean","type":"quantitative"}}},
 {"data":{"name":"box_d"},"mark":{"type":"rule","stroke":"#111","strokeWidth":1.2},
  "encoding":{"x":{"field":"x","type":"quantitative"},"y":{"field":"lo","type":"quantitative"},"y2":{"field":"hi"}}},
 {"data":{"name":"box_d"},"mark":{"type":"tick","orient":"horizontal","size":7,"thickness":1.6,"color":"#111"},
  "encoding":{"x":{"field":"x","type":"quantitative"},"y":{"field":"lo","type":"quantitative"}}},
 {"data":{"name":"box_d"},"mark":{"type":"tick","orient":"horizontal","size":7,"thickness":1.6,"color":"#111"},
  "encoding":{"x":{"field":"x","type":"quantitative"},"y":{"field":"hi","type":"quantitative"}}},
 {"data":{"name":"box_d"},"mark":{"type":"bar","width":17,"fill":"white","stroke":"#111","strokeWidth":1.1},
  "encoding":{"x":{"field":"x","type":"quantitative"},"y":{"field":"q1","type":"quantitative"},"y2":{"field":"q3"}}},
 {"data":{"name":"box_d"},"mark":{"type":"tick","orient":"horizontal","size":17,"thickness":1,"color":"#111"},
  "encoding":{"x":{"field":"x","type":"quantitative"},"y":{"field":"med","type":"quantitative"}}},
 {"data":{"values":[{"x":-2,"y":252}]},"mark":{"type":"point","shape":"triangle-up","filled":true,"fill":"white","stroke":"#111","strokeWidth":1.4,"size":90,"opacity":1},
  "encoding":{"x":{"field":"x","type":"quantitative"},"y":{"field":"y","type":"quantitative"}}},
 {"data":{"values":[{"x":1,"y":256}]},"mark":{"type":"point","shape":"triangle-up","filled":true,"color":"#111","size":95,"opacity":1},
  "encoding":{"x":{"field":"x","type":"quantitative"},"y":{"field":"y","type":"quantitative"}}},
 {"data":{"values":[{"x":-5.89,"y":814,"s":"d"}]},"mark":{"type":"text","font":"Liberation Sans","fontSize":13,"fontWeight":"bold","color":"#111"},
  "encoding":{"x":{"field":"x","type":"quantitative"},"y":{"field":"y","type":"quantitative"},"text":{"field":"s","type":"nominal"}}}
]}
]
}
